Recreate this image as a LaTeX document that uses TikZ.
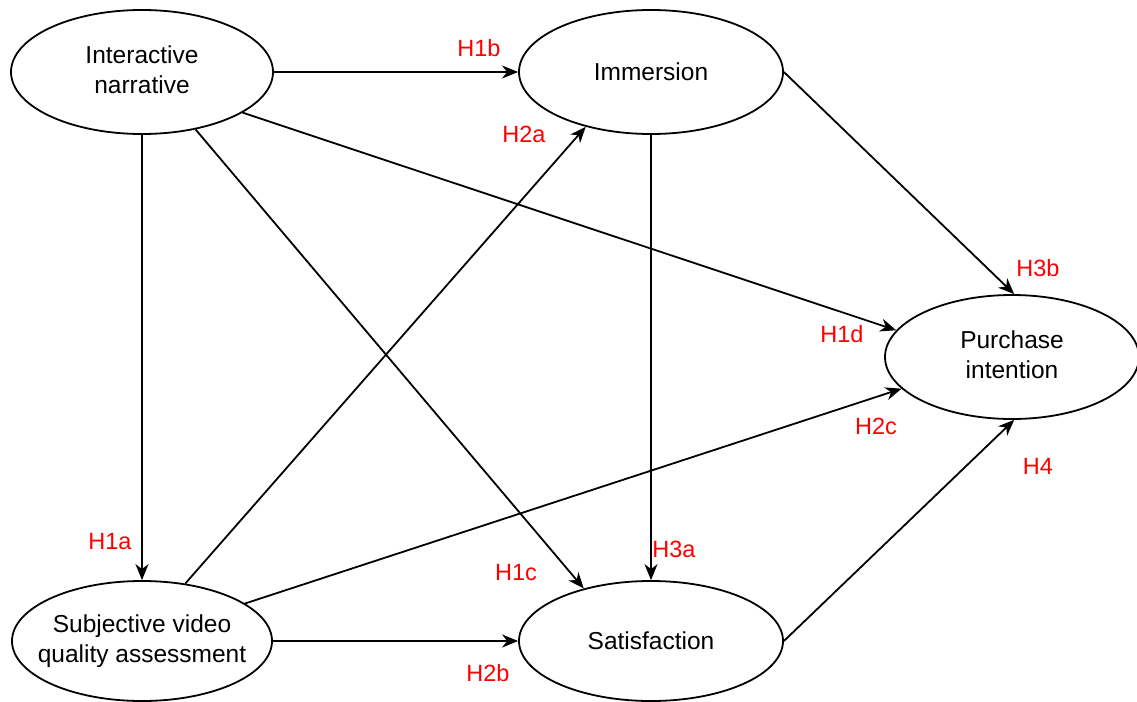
\documentclass[tikz,border=0pt]{standalone}
\usepackage{fontspec}
\setmainfont{Liberation Sans}
\usetikzlibrary{shapes.geometric,arrows.meta}
\newcommand{\twolines}[2]{\makebox[0pt]{\begin{tabular}{@{}c@{}}#1\\#2\end{tabular}}}
\begin{document}
\begin{tikzpicture}[x=1pt,y=-1pt,
  ell/.style={ellipse,draw,line width=1.8pt,inner sep=0pt,minimum height=124pt,font=\fontsize{24.5}{30}\selectfont},
  conn/.style={line width=1.8pt,-{Stealth[length=16pt,width=13pt,inset=5pt]}},
  hyp/.style={text=red,font=\fontsize{23.5}{28}\selectfont,inner sep=0pt}]
\clip (0,0) rectangle (1137,701);
\fill[white] (0,0) rectangle (1137,701);
\node[ell,minimum width=262pt] (in) at (142,72) {\twolines{Interactive}{narrative}};
\node[ell,minimum width=264pt] (im) at (651,72) {Immersion};
\node[ell,minimum width=254pt] (pi) at (1012,357) {\twolines{Purchase}{intention}};
\node[ell,minimum width=260pt,minimum height=120pt] (sv) at (142,641) {\twolines{Subjective video}{quality assessment}};
\node[ell,minimum width=264pt,minimum height=120pt] (sa) at (651,641) {Satisfaction};
\draw[conn] (in.east) -- (im.west);
\draw[conn] (in.south) -- (sv.north);
\draw[conn] (in.-47.6) -- (sa.142.6);
\draw[conn] (in.-22.1) -- (pi.167.6);
\draw[conn] (im.south) -- (sa.north);
\draw[conn] (im.east) -- (pi.88);
\draw[conn] (sv.53) -- (im.-140);
\draw[conn] (sv.east) -- (sa.west);
\draw[conn] (sv.20.1) -- (pi.-164.1);
\draw[conn] (sa.east) -- (pi.-88);
\node[hyp] (h1b) at (479,48) {H1b};
\node[hyp] (h2a) at (524,134) {H2a};
\node[hyp] (h3b) at (1038,268) {H3b};
\node[hyp] (h1d) at (842,334) {H1d};
\node[hyp] (h2c) at (876,426) {H2c};
\node[hyp] (h4) at (1038,466) {H4};
\node[hyp] (h1a) at (110,542) {H1a};
\node[hyp] (h1c) at (516,573) {H1c};
\node[hyp] (h3a) at (674,549) {H3a};
\node[hyp] (h2b) at (488,673) {H2b};
\end{tikzpicture}
\end{document}
